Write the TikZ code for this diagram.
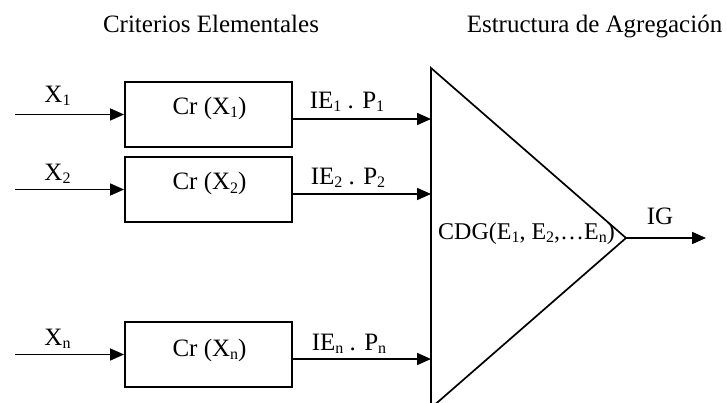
\documentclass[tikz,border=0pt]{standalone}
\usepackage{fontspec}
\setmainfont{Liberation Serif}
\usetikzlibrary{arrows.meta}
\newcommand\sbx[1]{\raisebox{-0.12em}{\fontsize{16}{16}\selectfont #1}}
\tikzset{
  blk/.style={draw, line width=1.9pt, minimum width=167pt, minimum height=65pt, inner sep=0pt},
  lbl/.style={inner sep=0pt, anchor=base, font=\fontsize{25}{25}\selectfont},
  arr/.style={line width=1.7pt, -{Triangle[length=14pt,width=12pt]}},
}
\begin{document}
\begin{tikzpicture}[x=1pt,y=-1pt]
\useasboundingbox (0,0) rectangle (727,403);
\clip (0,0) rectangle (727,403);
% headers
\node[lbl] (h1) at (211,33) {Criterios Elementales};
\node[lbl] (h2) at (594.5,33) {Estructura de Agregación};
% boxes
\node[blk] (b1) at (208.5,114.5) {};
\node[blk] (b2) at (208.5,189.5) {};
\node[blk] (bn) at (208.5,354.5) {};
\node[lbl] (t1) at (209.5,114.5) {Cr (X\sbx{1})};
\node[lbl] (t2) at (209.5,190) {Cr (X\sbx{2})};
\node[lbl] (tn) at (209.5,356.5) {Cr (X\sbx{n})};
% triangle
\coordinate (ta) at (431,68);
\coordinate (tb) at (431,408);
\coordinate (tc) at (626,238);
\draw[line width=1.7pt, line join=miter] (ta) -- (tc) -- (tb) -- cycle;
\node[lbl, font=\fontsize{24}{24}\selectfont] (cdg) at (526.5,240) {CDG(E\sbx{1}, E\sbx{2},\ldots E\sbx{n})};
% inputs
\coordinate (i1) at (15,114.5);
\coordinate (i2) at (15,189.5);
\coordinate (in) at (15,354.5);
\draw[arr] (i1) -- (b1.west);
\draw[arr] (i2) -- (b2.west);
\draw[arr] (in) -- (bn.west);
\node[lbl] (x1) at (57.5,103) {X\sbx{1}};
\node[lbl] (x2) at (57.5,181) {X\sbx{2}};
\node[lbl] (xn) at (57.5,345) {X\sbx{n}};
% outputs
\coordinate (o1) at (431,119);
\coordinate (o2) at (431,194);
\coordinate (on) at (431,359);
\draw[arr] (b1.east |- o1) -- (o1);
\draw[arr] (b2.east |- o2) -- (o2);
\draw[arr] (bn.east |- on) -- (on);
\node[lbl] (e1) at (347,109) {IE\sbx{1} . P\sbx{1}};
\node[lbl] (e2) at (348,185) {IE\sbx{2} . P\sbx{2}};
\node[lbl] (en) at (349,350) {IE\sbx{n} . P\sbx{n}};
% final output
\coordinate (ig) at (706,238);
\draw[arr] (tc) -- (ig);
\node[lbl] (igl) at (660,225) {IG};
\end{tikzpicture}
\end{document}
